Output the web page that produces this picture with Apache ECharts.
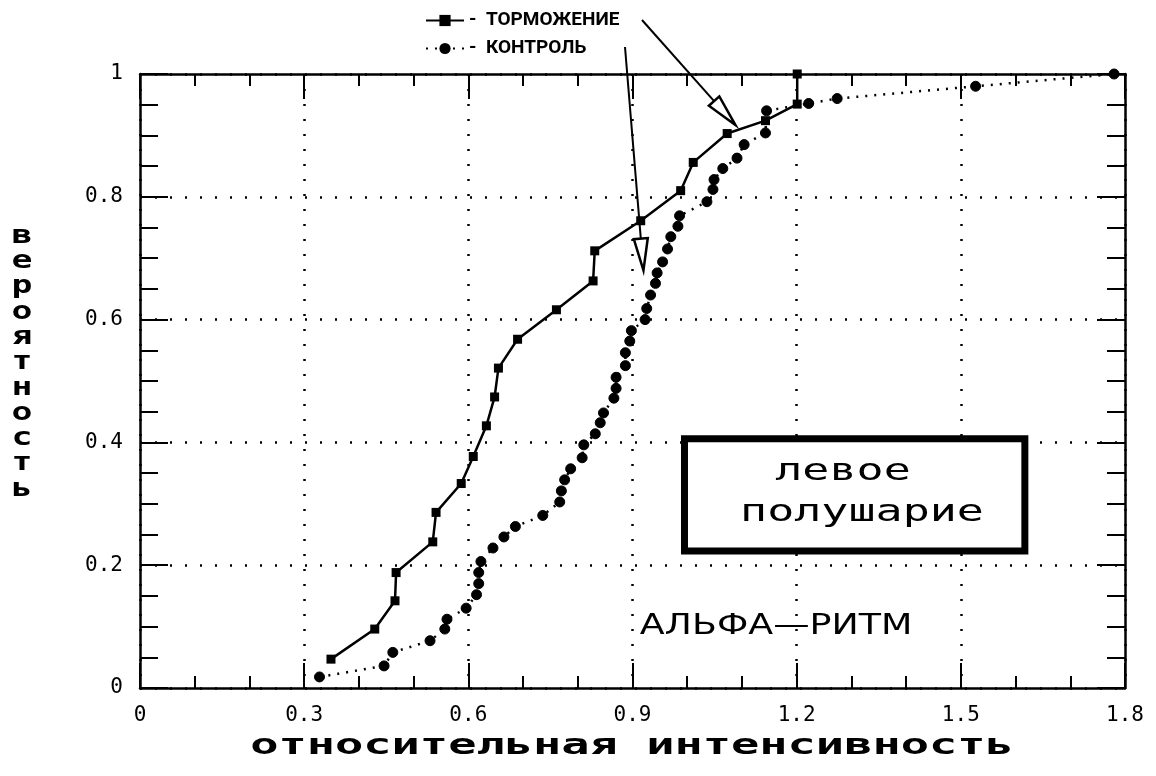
<!DOCTYPE html>
<html>
<head>
<meta charset="utf-8">
<script src="https://cdn.jsdelivr.net/npm/echarts@6/dist/echarts.min.js"></script>
<style>
html,body{margin:0;padding:0;background:#fff;}
#chart{width:1156px;height:776px;}
</style>
</head>
<body>
<div id="chart"></div>
<script>
// ---- data ----
const seriesNames = ['ТОРМОЖЕНИЕ', 'КОНТРОЛЬ'];
const xTicks = [0, 0.3, 0.6, 0.9, 1.2, 1.5, 1.8];
const yTicks = [0, 0.2, 0.4, 0.6, 0.8, 1];
const tormX = [0.349,0.429,0.466,0.468,0.535,0.541,0.587,0.609,0.633,0.648,0.655,0.690,0.761,0.828,0.831,0.915,0.988,1.011,1.073,1.143,1.201,1.201];
const tormY = [0.047,0.096,0.142,0.188,0.238,0.286,0.333,0.377,0.427,0.474,0.521,0.568,0.616,0.663,0.712,0.761,0.810,0.856,0.903,0.924,0.951,1.000];
const ctrlX = [0.328,0.446,0.462,0.530,0.557,0.561,0.596,0.615,0.619,0.619,0.623,0.645,0.665,0.686,0.736,0.767,0.770,0.776,0.787,0.808,0.811,0.832,0.841,0.847,0.866,0.870,0.870,0.887,0.887,0.895,0.898,0.923,0.926,0.933,0.942,0.945,0.955,0.964,0.970,0.983,0.986,1.036,1.047,1.049,1.065,1.091,1.104,1.143,1.145,1.222,1.274,1.527,1.780];
const ctrlY = [0.018,0.036,0.058,0.077,0.096,0.112,0.130,0.152,0.170,0.188,0.206,0.228,0.246,0.263,0.281,0.303,0.321,0.339,0.357,0.375,0.396,0.414,0.432,0.448,0.472,0.488,0.506,0.525,0.546,0.565,0.582,0.600,0.618,0.640,0.659,0.676,0.694,0.715,0.735,0.752,0.769,0.792,0.812,0.828,0.846,0.863,0.885,0.904,0.940,0.952,0.960,0.980,1.000];
const boxText = ['левое', 'полушарие'];
const rhythmText = 'АЛЬФА—РИТМ';
const xTitle = 'относительная интенсивность';
const yTitle = 'вероятность';

const tormData = tormX.map((x, i) => [x, tormY[i]]);
const ctrlData = ctrlX.map((x, i) => [x, ctrlY[i]]);

const chart = echarts.init(document.getElementById('chart'), null, {renderer: 'canvas'});
const monoFont = "'DejaVu Sans Mono', 'Liberation Mono', monospace";

function xAxisCfg(pos, show) {
  return {
    type: 'value', position: pos, min: 0, max: 1.8, interval: 0.3,
    axisLine: {show: true, onZero: false, lineStyle: {color: '#000', width: 2.5}},
    axisTick: {show: true, inside: true, length: 25, lineStyle: {color: '#000', width: 2}},
    minorTick: {show: true, splitNumber: 3, length: 12, lineStyle: {color: '#000', width: 2}},
    axisLabel: {show: show, color: '#000', fontFamily: monoFont, fontSize: 21, margin: 17,
      formatter: v => String(+v.toFixed(1))},
    splitLine: {show: show, lineStyle: {color: '#000', type: [2, 13], width: 2.5}},
    minorSplitLine: {show: false}
  };
}
function yAxisCfg(pos, show) {
  return {
    type: 'value', position: pos, min: 0, max: 1, interval: 0.2,
    axisLine: {show: true, onZero: false, lineStyle: {color: '#000', width: 2.5}},
    axisTick: {show: true, inside: true, length: 28, lineStyle: {color: '#000', width: 2}},
    minorTick: {show: true, splitNumber: 4, length: 18, lineStyle: {color: '#000', width: 2}},
    axisLabel: {show: show, color: '#000', fontFamily: monoFont, fontSize: 21, margin: 17,
      formatter: v => String(+v.toFixed(1))},
    splitLine: {show: show, lineStyle: {color: '#000', type: [2, 13], width: 2.5}},
    minorSplitLine: {show: false}
  };
}

const option = {
  backgroundColor: '#fff',
  animation: false,
  grid: {left: 140, right: 31, top: 74, bottom: 88, containLabel: false},
  legend: {
    orient: 'vertical', left: 420, top: 6, itemGap: 9, itemWidth: 38, itemHeight: 14,
    textStyle: {color: '#000', fontFamily: 'Roboto, sans-serif', fontWeight: 'bold', fontSize: 19},
    formatter: name => '-  ' + name,
    data: seriesNames
  },
  xAxis: [xAxisCfg('bottom', true), xAxisCfg('top', false)],
  yAxis: [yAxisCfg('left', true), yAxisCfg('right', false)],
  series: [
    {
      name: seriesNames[0], type: 'line', data: tormData, xAxisIndex: 0, yAxisIndex: 0,
      symbol: 'rect', symbolSize: 9, showSymbol: true,
      lineStyle: {color: '#000', width: 2.5},
      itemStyle: {color: '#000'}, z: 4
    },
    {
      name: seriesNames[1], type: 'line', data: ctrlData, xAxisIndex: 0, yAxisIndex: 0,
      symbol: 'circle', symbolSize: 10, showSymbol: true,
      lineStyle: {color: '#000', width: 2.5, type: [2, 7]},
      itemStyle: {color: '#000', borderColor: '#000'}, z: 3
    }
  ]
};
chart.setOption(option);

// ---- annotations (positions from data space where they point into the plot) ----
function px(x, y) { return chart.convertToPixel({xAxisIndex: 0, yAxisIndex: 0}, [x, y]); }

function arrow(start, tip) {
  const dx = tip[0] - start[0], dy = tip[1] - start[1];
  const L = Math.hypot(dx, dy), ux = dx / L, uy = dy / L;
  const hl = 32, hw = 7;
  const bx = tip[0] - ux * hl, by = tip[1] - uy * hl;
  return [
    {type: 'polyline', shape: {points: [start, [bx, by]]}, style: {stroke: '#000', lineWidth: 2, fill: null}, z: 10},
    {type: 'polygon', shape: {points: [tip, [bx - uy * hw, by + ux * hw], [bx + uy * hw, by - ux * hw]]},
      style: {stroke: '#000', lineWidth: 2.5, fill: '#fff'}, z: 10}
  ];
}

const tormTip = px(1.088, 0.917);
const ctrlTip = px(0.920, 0.680);
const boxTL = px(0.995, 0.406);
const boxBR = px(1.617, 0.223);

const g = [];
arrow([642, 20], tormTip).forEach(e => g.push(e));
arrow([625, 47], ctrlTip).forEach(e => g.push(e));
g.push({type: 'rect', shape: {x: boxTL[0], y: boxTL[1], width: boxBR[0] - boxTL[0], height: boxBR[1] - boxTL[1]},
  style: {fill: '#fff', stroke: '#000', lineWidth: 7}, z: 8});
g.push({type: 'text', x: 843, y: 472, scaleX: 1.5, z: 9,
  style: {text: boxText[0], fill: '#000', font: "30px 'DejaVu Sans Mono'", textAlign: 'center', textVerticalAlign: 'middle', align: 'center', verticalAlign: 'middle'}});
g.push({type: 'text', x: 862, y: 513, scaleX: 1.5, z: 9,
  style: {text: boxText[1], fill: '#000', font: "30px 'DejaVu Sans Mono'", textAlign: 'center', textVerticalAlign: 'middle', align: 'center', verticalAlign: 'middle'}});
g.push({type: 'text', x: 776, y: 627, scaleX: 1.3, z: 9,
  style: {text: rhythmText, fill: '#000', font: "28px 'DejaVu Sans'", textAlign: 'center', textVerticalAlign: 'middle', align: 'center', verticalAlign: 'middle'}});
g.push({type: 'text', x: 632, y: 746, scaleX: 1.62, z: 9,
  style: {text: xTitle, fill: '#000', font: "bold 29px 'DejaVu Sans Mono'", textAlign: 'center', textVerticalAlign: 'middle', align: 'center', verticalAlign: 'middle'}});
g.push({type: 'text', x: 22, y: 363, scaleX: 1.45, z: 9,
  style: {text: yTitle.split('').join('\n'), fill: '#000', font: "bold 24px 'DejaVu Sans Mono'", lineHeight: 25.3,
    textAlign: 'center', textVerticalAlign: 'middle', align: 'center', verticalAlign: 'middle'}});

chart.setOption({graphic: {elements: g}});
</script>
</body>
</html>
